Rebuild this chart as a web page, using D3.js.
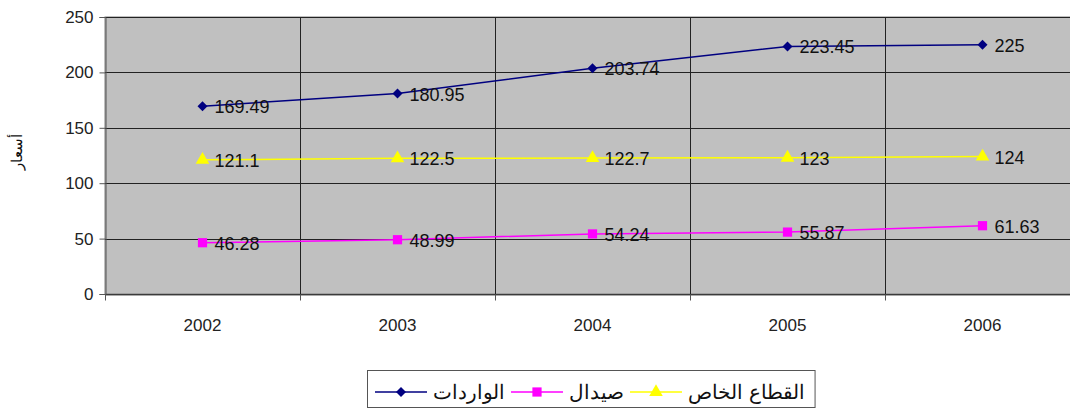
<!DOCTYPE html>
<html>
<head>
<meta charset="utf-8">
<script src="https://cdn.jsdelivr.net/npm/d3@7"></script>
<style>
  body { margin: 0; background: #fff; }
  text { font-family: Arial, "Liberation Sans", sans-serif; }
</style>
</head>
<body>
<script>
var w = 1070;
var h = 412;

var years = ["2002", "2003", "2004", "2005", "2006"];
var imports = [169.49, 180.95, 203.74, 223.45, 225];
var saidal = [46.28, 48.99, 54.24, 55.87, 61.63];
var privateSector = [121.1, 122.5, 122.7, 123, 124];
var yTicks = [0, 50, 100, 150, 200, 250];

var series = [
  { name: "الواردات", values: imports, color: "#000080", shape: "diamond" },
  { name: "صيدال", values: saidal, color: "#ff00ff", shape: "square" },
  { name: "القطاع الخاص", values: privateSector, color: "#ffff00", shape: "triangle" }
];

var plotLeft = 105, plotTop = 17, plotRight = 1080, plotBottom = 294;

var xScale = d3.scaleBand().domain(years).range([plotLeft, plotRight]).padding(0);
var yScale = d3.scaleLinear().domain([0, 250]).range([plotBottom, plotTop]);

var svg = d3.select("body").append("svg").attr("width", w).attr("height", h);

//plot area
svg.append("rect")
  .attr("x", plotLeft).attr("y", plotTop)
  .attr("width", plotRight - plotLeft).attr("height", plotBottom - plotTop)
  .attr("fill", "#c0c0c0")
  .attr("stroke", "#808080");

//horizontal grid
svg.selectAll(".hgrid")
  .data(yTicks)
  .enter()
  .append("line")
  .attr("x1", plotLeft).attr("x2", plotRight)
  .attr("y1", function (d) { return Math.round(yScale(d)) + 0.5; })
  .attr("y2", function (d) { return Math.round(yScale(d)) + 0.5; })
  .attr("stroke", "#222")
  .attr("stroke-width", 1);

//vertical grid at category boundaries
svg.selectAll(".vgrid")
  .data(years.slice(1))
  .enter()
  .append("line")
  .attr("x1", function (d) { return Math.round(xScale(d)) + 0.5; })
  .attr("x2", function (d) { return Math.round(xScale(d)) + 0.5; })
  .attr("y1", plotTop).attr("y2", plotBottom)
  .attr("stroke", "#222");

//y axis
var yAxis = d3.axisLeft(yScale).tickValues(yTicks).tickSize(6).tickPadding(6);
var gy = svg.append("g").attr("transform", "translate(" + (plotLeft + 0.5) + ",0)").call(yAxis);
gy.select(".domain").attr("stroke", "#555");
gy.selectAll(".tick line").attr("stroke", "#555");
gy.selectAll(".tick text").attr("font-size", "17px").attr("fill", "#222")
  .attr("font-family", "Arial, 'Liberation Sans', sans-serif");

//x axis
var xAxis = d3.axisBottom(xScale).tickSize(0).tickPadding(24);
var gx = svg.append("g").attr("transform", "translate(0," + (plotBottom + 0.5) + ")").call(xAxis);
gx.select(".domain").attr("stroke", "#555");
gx.selectAll(".tick text").attr("font-size", "17px").attr("fill", "#222")
  .attr("font-family", "Arial, 'Liberation Sans', sans-serif");
//x ticks at boundaries
gx.selectAll(".bt")
  .data(years)
  .enter()
  .append("line")
  .attr("x1", function (d) { return Math.round(xScale(d)) + 0.5; })
  .attr("x2", function (d) { return Math.round(xScale(d)) + 0.5; })
  .attr("y1", 0).attr("y2", 6)
  .attr("stroke", "#555");

//y axis title
svg.append("text")
  .attr("transform", "translate(22,152) rotate(-90)")
  .attr("text-anchor", "middle")
  .attr("font-size", "15px")
  .attr("fill", "#111")
  .text("أسعار");

var cx = function (i) { return xScale(years[i]) + xScale.bandwidth() / 2; };

var symbolFor = function (shape) {
  if (shape == "diamond") return d3.symbol().type(d3.symbolSquare).size(50);
  if (shape == "square") return d3.symbol().type(d3.symbolSquare).size(85);
  return d3.symbol().type(d3.symbolTriangle).size(80);
};
var rot = function (shape) { return shape == "diamond" ? " rotate(45)" : ""; };

var line = d3.line()
  .x(function (d, i) { return cx(i); })
  .y(function (d) { return yScale(d); });

series.forEach(function (s) {
  svg.append("path")
    .attr("d", line(s.values))
    .attr("fill", "none")
    .attr("stroke", s.color)
    .attr("stroke-width", 1.5);

  svg.selectAll(null)
    .data(s.values)
    .enter()
    .append("path")
    .attr("d", symbolFor(s.shape))
    .attr("transform", function (d, i) { return "translate(" + cx(i) + "," + yScale(d) + ")" + rot(s.shape); })
    .attr("fill", s.color);

  svg.selectAll(null)
    .data(s.values)
    .enter()
    .append("text")
    .attr("x", function (d, i) { return cx(i) + 12; })
    .attr("y", function (d) { return yScale(d) + 7; })
    .attr("font-size", "18px")
    .attr("fill", "#111")
    .text(function (d) { return d; });
});

//legend
var legend = svg.append("g");
var legendBox = legend.append("rect")
  .attr("x", 367.5).attr("y", 370.5)
  .attr("height", 37)
  .attr("fill", "#fff")
  .attr("stroke", "#555");

var lx = 375;
var ly = 392;
series.forEach(function (s) {
  legend.append("line")
    .attr("x1", lx).attr("x2", lx + 52)
    .attr("y1", ly).attr("y2", ly)
    .attr("stroke", s.color).attr("stroke-width", 1.5);
  legend.append("path")
    .attr("d", symbolFor(s.shape))
    .attr("transform", "translate(" + (lx + 26) + "," + ly + ")" + rot(s.shape))
    .attr("fill", s.color);
  var t = legend.append("text")
    .attr("x", lx + 58)
    .attr("y", ly + 7)
    .attr("font-size", "20px")
    .attr("fill", "#111")
    .text(s.name);
  lx = lx + 58 + t.node().getComputedTextLength() + 6;
});
legendBox.attr("width", lx - 367 + 4);
</script>
</body>
</html>
